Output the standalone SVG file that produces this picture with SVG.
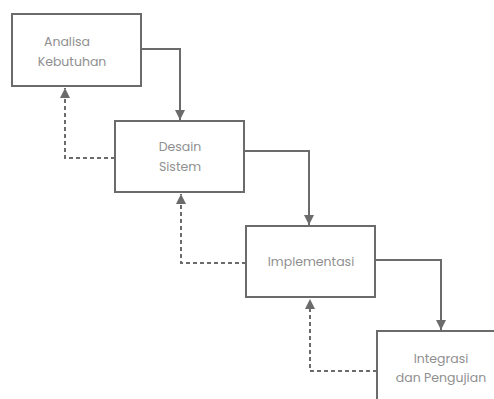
<svg xmlns="http://www.w3.org/2000/svg" width="494" height="399" viewBox="0 0 494 399">
<defs>
<style>
.box{fill:#fff;stroke:#6b6b6b;stroke-width:2}
.t{font-family:"Poppins","Inter","Noto Sans",sans-serif;font-size:12.5px;fill:#8f8f8f;text-anchor:middle}
.solid{fill:none;stroke:#6b6b6b;stroke-width:2}
.dash{fill:none;stroke:#6b6b6b;stroke-width:2;stroke-dasharray:4 3}
</style>
<marker id="ah" viewBox="0 0 10 10" refX="10" refY="5" markerWidth="10" markerHeight="10" markerUnits="userSpaceOnUse" orient="auto">
<path d="M0,0 L10,5 L0,10 Z" fill="#6b6b6b"/>
</marker>
</defs>
<rect width="494" height="399" fill="#fff"/>
<g id="connectors">
<path class="solid" d="M141,49 H180 V120" marker-end="url(#ah)"/>
<path class="solid" d="M244,151 H309 V225" marker-end="url(#ah)"/>
<path class="solid" d="M375,260 H441 V330" marker-end="url(#ah)"/>
<path class="dash" d="M115,158 H65 V88" marker-end="url(#ah)"/>
<path class="dash" d="M246,263 H181 V194" marker-end="url(#ah)"/>
<path class="dash" d="M377,371 H310 V299" marker-end="url(#ah)"/>
</g>
<g id="analisa">
<rect class="box" x="12" y="14" width="129" height="72"/>
<text class="t" x="67" y="46">Analisa</text>
<text class="t" x="72" y="66">Kebutuhan</text>
</g>
<g id="desain">
<rect class="box" x="115" y="121" width="129" height="71"/>
<text class="t" x="180" y="151">Desain</text>
<text class="t" x="180" y="171">Sistem</text>
</g>
<g id="implementasi">
<rect class="box" x="246" y="226" width="129" height="71"/>
<text class="t" x="311" y="266">Implementasi</text>
</g>
<g id="integrasi">
<path class="box" d="M377,399 V331 H494" />
<text class="t" x="441" y="363">Integrasi</text>
<text class="t" x="441" y="382">dan Pengujian</text>
</g>
</svg>
